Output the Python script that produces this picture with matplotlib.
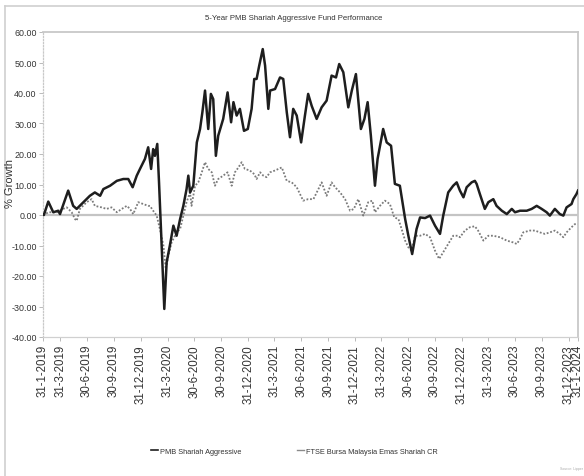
import matplotlib
matplotlib.use("Agg")
import matplotlib.pyplot as plt
import numpy as np
import pandas as pd
from matplotlib.lines import Line2D

# ---------------- data ----------------
start_date = "2019-01-31"

pmb_days = [0, 3, 18, 35, 52, 58, 69, 86, 103, 115, 138, 160, 177, 195, 206, 229, 252, 274, 291, 306,
            320, 331, 348, 359, 369, 376, 382, 390, 396, 414, 422, 433, 445, 456, 468, 479, 490, 496,
            502, 513, 525, 536, 544, 553, 564, 573, 581, 590, 598, 615, 630, 642, 650, 661, 672, 686,
            699, 712, 721, 729, 738, 750, 758, 769, 775, 792, 809, 820, 832, 843, 854, 866, 881, 894,
            905, 917, 934, 951, 968, 985, 1000, 1011, 1025, 1042, 1054, 1068, 1085, 1097, 1108, 1119,
            1133, 1142, 1161, 1173, 1188, 1201, 1218, 1236, 1247, 1260, 1275, 1287, 1304, 1321, 1338,
            1355, 1366, 1383, 1400, 1412, 1423, 1435, 1446, 1463, 1474, 1480, 1491, 1508, 1520, 1537,
            1548, 1566, 1583, 1600, 1611, 1628, 1651, 1668, 1685, 1702, 1719, 1730, 1747, 1764, 1776,
            1787, 1804, 1810, 1821, 1826]
pmb_vals = [0.0, 0.0, 4.4, 0.9, 1.4, 0.3, 3.3, 8.0, 3.0, 2.0, 4.2, 6.3, 7.4, 6.3, 8.5, 9.6, 11.2, 11.8, 11.8, 9.1,
            12.9, 15.1, 18.4, 22.2, 15.1, 21.6, 19.4, 23.3, 10.7, -30.8, -15.5, -10.0, -3.5, -6.8, -1.3, 3.0, 8.5, 12.9,
            7.4, 9.6, 23.8, 28.2, 33.7, 40.8, 28.2, 39.7, 38.0, 19.4, 26.0, 31.5, 40.2, 30.4, 37.0, 32.6, 34.8, 27.6,
            28.2, 34.8, 44.6, 44.6, 49.0, 54.4, 49.0, 34.8, 40.8, 41.3, 45.1, 44.6, 33.7, 25.5, 34.8, 32.6, 23.8, 32.6,
            39.7, 35.8, 31.5, 35.3, 37.5, 45.7, 45.1, 49.5, 46.8, 35.3, 40.8, 46.2, 28.2, 31.5, 37.0, 26.0,
            9.6, 18.4, 28.2, 23.8, 22.7, 10.2, 9.6, -1.3, -6.8, -12.8, -4.6, -0.8, -1.0, -0.2, -3.5,
            -6.2, -0.2, 7.4, 9.6, 10.7, 8.0, 5.8, 9.1, 10.7, 11.2, 10.2, 6.9, 2.0, 4.2, 5.2,
            3.0, 1.4, 0.3, 2.0, 0.9, 1.4, 1.4, 2.0, 3.0, 2.0, 0.9, -0.2, 2.0, 0.3, -0.2,
            2.5, 3.6, 5.2, 6.9, 8.0]

ftse_days = [0, 3, 18, 47, 69, 81, 98, 109, 115, 126, 149, 166, 177, 200, 217, 234, 252, 269, 286, 297,
             308, 325, 342, 359, 365, 376, 388, 399, 411, 419, 428, 439, 456, 468, 479, 490, 502, 507,
             519, 530, 542, 553, 564, 576, 587, 598, 615, 630, 644, 655, 667, 678, 689, 706, 721, 729,
             741, 752, 763, 775, 792, 815, 832, 849, 866, 888, 905, 923, 940, 951, 968, 985, 997, 1014,
             1031, 1048, 1061, 1076, 1093, 1110, 1124, 1133, 1150, 1167, 1184, 1199, 1213, 1224, 1236,
             1247, 1258, 1270, 1287, 1304, 1321, 1338, 1352, 1366, 1383, 1400, 1417, 1423, 1440, 1457,
             1474, 1485, 1503, 1520, 1537, 1560, 1583, 1605, 1617, 1628, 1639, 1662, 1679, 1696, 1713,
             1730, 1747, 1764, 1776, 1787, 1804, 1815, 1826]
ftse_vals = [0.0, 0.0, 0.9, 0.9, 2.0, 2.5, 0.9, -1.3, -1.9, 2.0, 4.2, 5.2, 3.0, 2.5, 2.0, 2.5, 0.9, 2.0, 3.0, 2.0,
             0.3, 4.2, 3.6, 3.0, 3.0, 1.4, -0.2, -4.6, -10.0, -17.7, -13.3, -9.0, -5.7, -4.6, -0.2, 4.2, 7.4, 3.0,
             9.6, 10.7, 14.0, 17.3, 15.1, 14.0, 9.6, 11.8, 12.9, 14.0, 9.6, 14.0, 15.6, 17.3, 15.1, 14.6, 13.4, 11.8,
             14.0, 12.9, 12.4, 14.0, 14.6, 15.6, 11.2, 10.7, 9.1, 4.7, 5.2, 5.2, 8.5, 10.7, 6.3, 10.7, 9.1, 7.4,
             5.2, 1.4, 2.0, 5.2, -0.2, 4.2, 4.7, 0.9, 3.0, 4.7, 3.6, -0.8, -1.3, -4.6, -8.4,
             -10.6, -11.7, -6.8, -6.8, -6.2, -7.3, -11.7, -14.4, -12.2, -9.5, -6.8, -6.8, -7.3, -5.1, -4.0,
             -3.7, -5.1, -8.4, -6.8, -6.8, -7.3, -8.4, -9.0, -9.5, -7.9, -5.7, -5.1, -5.1, -5.7, -6.2,
             -5.7, -5.1, -6.2, -7.3, -5.7, -4.0, -3.0, -3.0]

tick_dates = ["2019-01-31", "2019-03-31", "2019-06-30", "2019-09-30", "2019-12-31",
              "2020-03-31", "2020-06-30", "2020-09-30", "2020-12-31",
              "2021-03-31", "2021-06-30", "2021-09-30", "2021-12-31",
              "2022-03-31", "2022-06-30", "2022-09-30", "2022-12-31",
              "2023-03-31", "2023-06-30", "2023-09-30", "2023-12-31", "2024-01-31"]
tick_labels = ["31-1-2019", "31-3-2019", "30-6-2019", "30-9-2019", "31-12-2019",
               "31-3-2020", "30-6-2020", "30-9-2020", "31-12-2020",
               "31-3-2021", "30-6-2021", "30-9-2021", "31-12-2021",
               "31-3-2022", "30-6-2022", "30-9-2022", "31-12-2022",
               "31-3-2023", "30-6-2023", "30-9-2023", "31-12-2023", "31-1-2024"]
y_ticks = [60, 50, 40, 30, 20, 10, 0, -10, -20, -30, -40]

series_names = ["PMB Shariah Aggressive", "FTSE Bursa Malaysia Emas Shariah CR"]
title = "5-Year PMB Shariah Aggressive Fund Performance"

# ---------------- plotting ----------------
narrow = ["Liberation Sans Narrow", "Liberation Sans", "DejaVu Sans"]
wide = ["Liberation Sans", "DejaVu Sans"]

t0 = pd.Timestamp(start_date)
pmb_dates = t0 + pd.to_timedelta(pmb_days, unit="D")
ftse_dates = t0 + pd.to_timedelta(ftse_days, unit="D")
ticks = pd.to_datetime(tick_dates)

fig = plt.figure(figsize=(5.84, 4.77), dpi=100)
ax = fig.add_axes([43 / 584, 1 - 338 / 477, (578 - 43) / 584, (338 - 33) / 477])

ax.axhline(0, color="#c4c4c4", lw=1.6, zorder=1)
ax.plot(ftse_dates, ftse_vals, color="#7a7a7a", lw=1.3, linestyle=(0, (1.0, 1.0)), zorder=2)
ax.plot(pmb_dates, pmb_vals, color="#1e1e1e", lw=1.8, zorder=3)

ax.set_xlim(ticks[0], ticks[-1])
ax.set_ylim(-40, 60)
ax.set_yticks(y_ticks)
ax.set_yticklabels([f"{v:.2f}" for v in y_ticks], family=narrow, fontsize=6.4, color="#333333")
ax.set_xticks(ticks)
ax.set_xticklabels(tick_labels, rotation=90, family=wide, fontsize=8.3, color="#333333")
ax.tick_params(axis="both", length=3, width=0.6, color="#b0b0b0", pad=2)
ax.tick_params(axis="y", pad=1.5)

for side in ["top", "right"]:
    ax.spines[side].set_color("#c8c8c8")
    ax.spines[side].set_linewidth(1.3)
ax.spines["left"].set_color("#c8c8c8")
ax.spines["left"].set_linewidth(0.9)
ax.spines["left"].set_linestyle((0, (1, 1.5)))
ax.spines["bottom"].set_color("#d0d0d0")
ax.spines["bottom"].set_linewidth(0.9)

fig.text(10 / 584, 1 - 184 / 477, "% Growth", rotation=90, ha="center", va="center",
         family=wide, fontsize=8.0, color="#333333")
fig.text(294 / 584, 1 - 18 / 477, title, ha="center", va="center",
         family=narrow, fontsize=5.6, color="#333333")

# outer frame
fig.add_artist(Line2D([5 / 584, 1], [1 - 7 / 477, 1 - 7 / 477], transform=fig.transFigure,
                      color="#cfcfcf", lw=1.2))
fig.add_artist(Line2D([5 / 584, 5 / 584], [0, 1 - 7 / 477], transform=fig.transFigure,
                      color="#cfcfcf", lw=1.2))

handles = [Line2D([], [], color="#1e1e1e", lw=1.2),
           Line2D([], [], color="#8a8a8a", lw=1.0)]
leg = fig.legend(handles, series_names, loc="center", bbox_to_anchor=(294.5 / 584, 1 - 452 / 477),
                 ncol=2, frameon=False, handlelength=1.0, handletextpad=0.3, columnspacing=7.5,
                 prop={"family": narrow, "size": 5.3})
for txt in leg.get_texts():
    txt.set_color("#333333")

fig.text(572 / 584, 1 - 469 / 477, "Source: Lipper", ha="center", va="center",
         fontsize=2.5, color="#aaaaaa", family=wide)

fig.savefig("out.png", dpi=100)
